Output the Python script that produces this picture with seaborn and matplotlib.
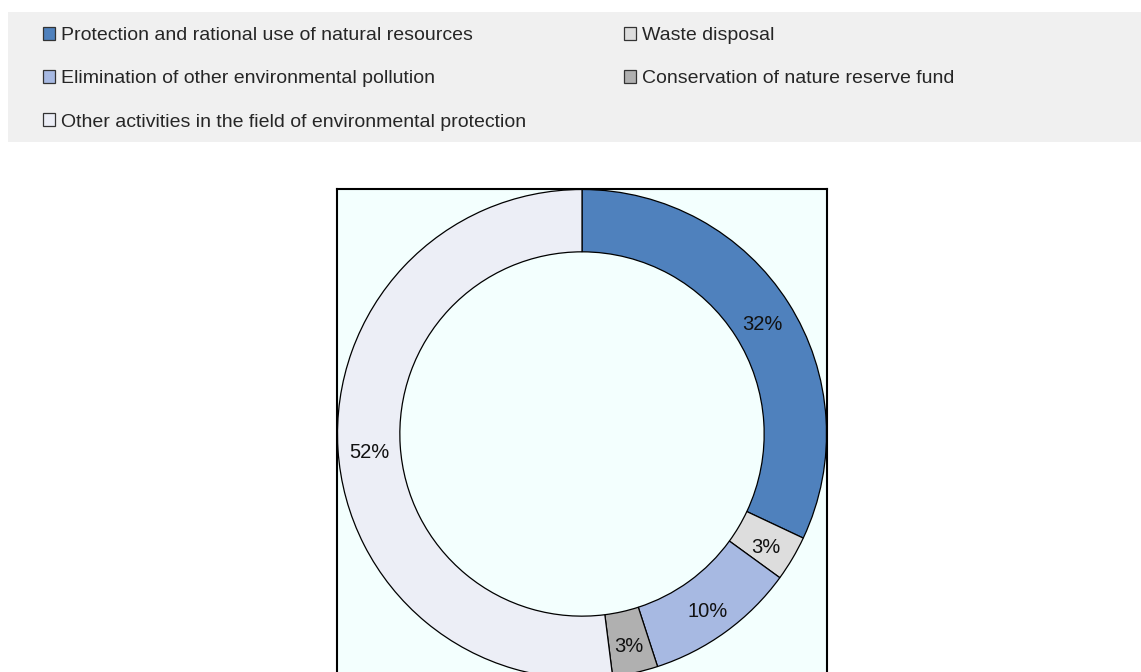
import matplotlib
matplotlib.use('Agg')
import matplotlib.pyplot as plt
import seaborn as sns
from matplotlib.patches import Rectangle, Patch

categories=['Protection and rational use of natural resources','Waste disposal','Elimination of other environmental pollution','Conservation of nature reserve fund','Other activities in the field of environmental protection']
shares=[32,3,10,3,52]
colors=['#4f81bd','#dddddd','#a7b9e2','#b0b0b0','#eceef6']
legend_order=[0,2,4,1,3]

sns.set_theme(style='white')
plt.rcParams['font.family']=['Liberation Sans','DejaVu Sans']

fig=plt.figure(figsize=(11.41,6.72),dpi=100)
fig.patch.set_facecolor('white')

# grey band behind the legend
fig.patches.append(Rectangle((8/1141,1-142/672),1-8/1141,130/672,transform=fig.transFigure,facecolor='#f0f0f0',edgecolor='none',zorder=0))

ax=fig.add_axes([337/1141,-0.0104,490/1141,490/672])
wedges,texts,autotexts=ax.pie(shares,colors=colors,startangle=90,counterclock=False,radius=1,
	wedgeprops=dict(width=0.255,edgecolor='black',linewidth=0.9),
	autopct=lambda p:'%d%%'%round(p),pctdistance=0.872,textprops=dict(fontsize=14.5,color='#111111'))
for t in autotexts:
	x,y=t.get_position()
	t.set_position((x,y-0.02))
ax.set_frame_on(True)
ax.set_facecolor('#f3fffe')
ax.set_xlim(-1.002,1.002)
ax.set_ylim(-1.002,1.002)
ax.set_aspect('equal')
for s in ax.spines.values():
	s.set_visible(True)
	s.set_color('black')
	s.set_linewidth(1.5)

handles=[Patch(facecolor=colors[i],edgecolor='#333333',linewidth=0.9) for i in legend_order]
labels=[categories[i] for i in legend_order]
fig.legend(handles,labels,ncol=2,loc='upper left',bbox_to_anchor=(43/1141,1-27/672),frameon=False,
	fontsize=14,handlelength=0.62,handleheight=0.62,handletextpad=0.3,labelspacing=1.34,columnspacing=5.05,borderaxespad=0,borderpad=0)

plt.savefig('out.png',dpi=100)
plt.close()
